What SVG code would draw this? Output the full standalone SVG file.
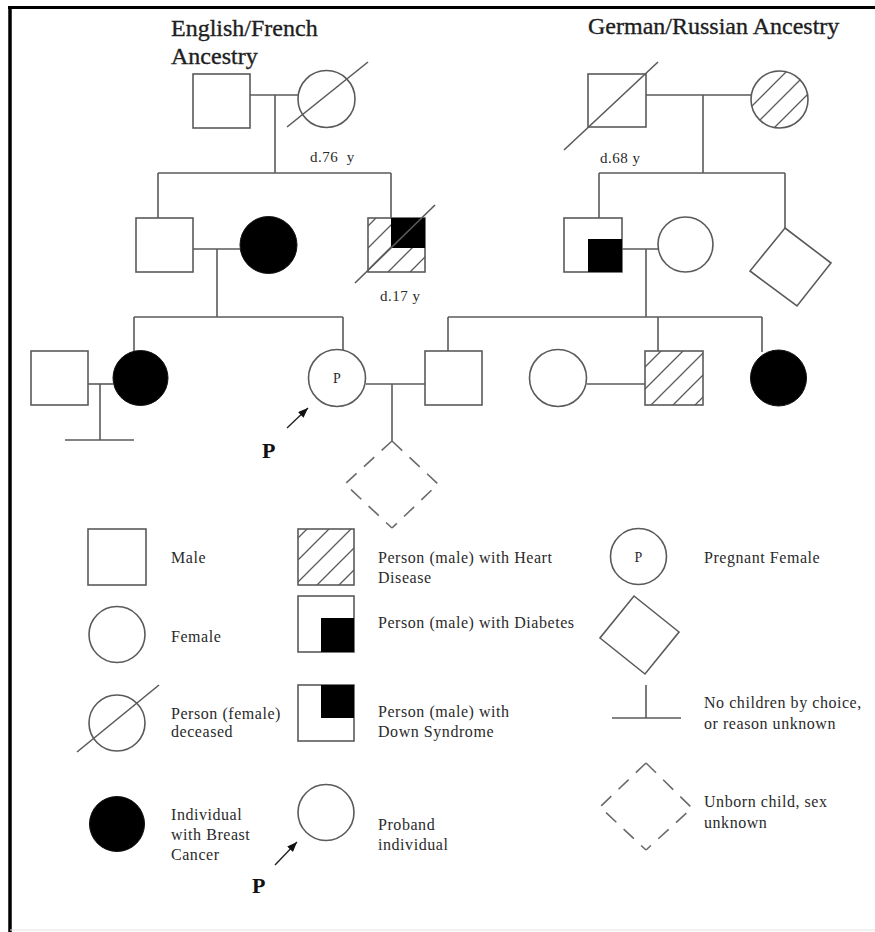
<svg xmlns="http://www.w3.org/2000/svg" width="875" height="932" viewBox="0 0 875 932">
  <style>
    .ln { stroke: #5a5a5a; stroke-width: 1.6; fill: none; }
    .sym { stroke: #5a5a5a; stroke-width: 1.6; fill: #fff; }
    .blk { fill: #000; stroke: #111; stroke-width: 1; }
    .hat { stroke: #5a5a5a; stroke-width: 1.6; fill: url(#hatch); }
    .dash { stroke: #6a6a6a; stroke-width: 1.6; fill: none; stroke-dasharray: 14 10; }
    .head { font-family: "Liberation Serif", "Times New Roman", serif; font-size: 24px; fill: #1e1e1e; stroke: #1e1e1e; stroke-width: 0.35px; }
    .lbl { font-family: "Liberation Serif", "Times New Roman", serif; font-size: 16px; fill: #2a2a2a; letter-spacing: 0.55px; }
    .age { font-family: "Liberation Serif", "Times New Roman", serif; font-size: 15px; fill: #2a2a2a; letter-spacing: 0.5px; white-space: pre; }
    .pin { font-family: "Liberation Serif", "Times New Roman", serif; font-size: 14px; fill: #2a2a2a; text-anchor: middle; }
    .pb { font-family: "Liberation Serif", "Times New Roman", serif; font-size: 22px; font-weight: bold; fill: #111; }
    .arr { stroke: #222; stroke-width: 1.4; fill: none; marker-end: url(#tip); }
  </style>
  <defs>
    <pattern id="hatch" patternUnits="userSpaceOnUse" width="22" height="22">
      <path d="M-5,5 L5,-5 M0,22 L22,0 M17,27 L27,17" stroke="#5a5a5a" stroke-width="1.3"/>
    </pattern>
    <marker id="tip" viewBox="0 0 10 8" refX="10" refY="4" markerWidth="10" markerHeight="8" markerUnits="userSpaceOnUse" orient="auto">
      <path d="M0,0 L10,4 L0,8 Z" fill="#111"/>
    </marker>
  </defs>

  <rect width="875" height="932" fill="#fff"/>
  <!-- frame -->
  <g id="frame">
    <line x1="8" y1="7.5" x2="875" y2="7.5" stroke="#000" stroke-width="3"/>
    <line x1="10" y1="6" x2="10" y2="932" stroke="#000" stroke-width="3.5"/>
    <line x1="10" y1="930" x2="875" y2="930" stroke="#e2e2e2" stroke-width="1"/>
  </g>

  <!-- headings -->
  <g id="headings">
    <text class="head" x="171" y="36">English/French</text>
    <text class="head" x="171" y="64">Ancestry</text>
    <text class="head" x="588" y="34">German/Russian Ancestry</text>
  </g>

  <!-- connectors -->
  <g id="connectors">
    <!-- English/French grandparents -->
    <line class="ln" x1="250" y1="95" x2="298" y2="95"/>
    <line class="ln" x1="275" y1="95" x2="275" y2="173"/>
    <line class="ln" x1="158" y1="173" x2="391" y2="173"/>
    <line class="ln" x1="158" y1="173" x2="158" y2="218"/>
    <line class="ln" x1="391" y1="173" x2="391" y2="218"/>
    <!-- German/Russian grandparents -->
    <line class="ln" x1="646" y1="95" x2="751" y2="95"/>
    <line class="ln" x1="703" y1="95" x2="703" y2="173"/>
    <line class="ln" x1="599" y1="173" x2="785" y2="173"/>
    <line class="ln" x1="599" y1="173" x2="599" y2="218"/>
    <line class="ln" x1="785" y1="173" x2="785" y2="228"/>
    <!-- left parents -->
    <line class="ln" x1="193" y1="249" x2="240" y2="249"/>
    <line class="ln" x1="217" y1="249" x2="217" y2="317"/>
    <line class="ln" x1="134" y1="317" x2="343" y2="317"/>
    <line class="ln" x1="134" y1="317" x2="134" y2="352"/>
    <line class="ln" x1="343" y1="317" x2="343" y2="351"/>
    <!-- right parents -->
    <line class="ln" x1="622" y1="249" x2="658" y2="249"/>
    <line class="ln" x1="646" y1="249" x2="646" y2="317"/>
    <line class="ln" x1="448" y1="317" x2="762" y2="317"/>
    <line class="ln" x1="448" y1="317" x2="448" y2="351"/>
    <line class="ln" x1="658" y1="317" x2="658" y2="351"/>
    <line class="ln" x1="762" y1="317" x2="762" y2="352"/>
    <!-- third generation couples -->
    <line class="ln" x1="88" y1="384" x2="113" y2="384"/>
    <line class="ln" x1="100" y1="384" x2="100" y2="440"/>
    <line class="ln" x1="65" y1="440" x2="134" y2="440"/>
    <line class="ln" x1="366" y1="384" x2="425" y2="384"/>
    <line class="ln" x1="392" y1="384" x2="392" y2="441"/>
    <line class="ln" x1="587" y1="384" x2="645" y2="384"/>
  </g>

  <!-- English/French side -->
  <g id="ef-grandfather"><rect class="sym" x="193" y="74" width="57" height="54"/></g>
  <g id="ef-grandmother">
    <circle class="sym" cx="326.5" cy="99" r="28.5"/>
    <line class="ln" x1="287" y1="127" x2="368" y2="62"/>
    <text class="age" x="310" y="162">d.76  y</text>
  </g>
  <g id="ef-son"><rect class="sym" x="136" y="218" width="57" height="54"/></g>
  <g id="ef-son-wife"><circle class="blk" cx="268.5" cy="245" r="28.5"/></g>
  <g id="ef-son-deceased">
    <rect class="hat" x="368" y="218" width="57" height="54"/>
    <rect x="391" y="218" width="34" height="30" fill="#000"/>
    <line class="ln" x1="355" y1="283" x2="435" y2="205"/>
    <text class="age" x="380" y="301">d.17 y</text>
  </g>

  <!-- German/Russian side -->
  <g id="gr-grandfather">
    <rect class="sym" x="588" y="74" width="58" height="53"/>
    <line class="ln" x1="564" y1="150" x2="658" y2="62"/>
    <text class="age" x="600" y="163">d.68 y</text>
  </g>
  <g id="gr-grandmother"><circle class="hat" cx="779.5" cy="99.5" r="28.5"/></g>
  <g id="gr-son">
    <rect class="sym" x="564" y="218" width="58" height="54"/>
    <rect x="588" y="239" width="34" height="33" fill="#000"/>
  </g>
  <g id="gr-son-wife"><circle class="sym" cx="685.5" cy="244.5" r="27.5"/></g>
  <g id="gr-sibling"><polygon class="sym" points="785,228 831,263 797,306 750,271"/></g>

  <!-- third generation -->
  <g id="g3-husband"><rect class="sym" x="31" y="351" width="57" height="54"/></g>
  <g id="g3-daughter"><circle class="blk" cx="140.5" cy="378" r="27.5"/></g>
  <g id="proband">
    <circle class="sym" cx="337" cy="378" r="28.5"/>
    <text class="pin" x="337" y="383">P</text>
    <line class="arr" x1="287" y1="428" x2="308" y2="408"/>
    <text class="pb" x="262" y="458">P</text>
  </g>
  <g id="unborn">
    <path class="dash" d="M392,441 L345,484 L392,528"/>
    <path class="dash" d="M392,441 L438,484 L392,528"/>
  </g>
  <g id="proband-husband"><rect class="sym" x="425" y="351" width="57" height="54"/></g>
  <g id="sister-in-law"><circle class="sym" cx="558" cy="378" r="28.5"/></g>
  <g id="brother-in-law"><rect class="hat" x="645" y="351" width="58" height="54"/></g>
  <g id="sister-of-husband"><circle class="blk" cx="778.5" cy="378" r="28"/></g>

  <!-- key -->
  <g id="key-male">
    <rect class="sym" x="88" y="529" width="58" height="56"/>
    <text class="lbl" x="171" y="563">Male</text>
  </g>
  <g id="key-female">
    <circle class="sym" cx="117" cy="634.5" r="28"/>
    <text class="lbl" x="171" y="642">Female</text>
  </g>
  <g id="key-deceased">
    <circle class="sym" cx="117" cy="723" r="28"/>
    <line class="ln" x1="77" y1="752" x2="159" y2="685"/>
    <text class="lbl" x="171" y="719">Person (female)</text>
    <text class="lbl" x="171" y="737">deceased</text>
  </g>
  <g id="key-cancer">
    <circle class="blk" cx="117" cy="824" r="27.5"/>
    <text class="lbl" x="171" y="820">Individual</text>
    <text class="lbl" x="171" y="840">with Breast</text>
    <text class="lbl" x="171" y="860">Cancer</text>
  </g>
  <g id="key-heart">
    <rect class="hat" x="298" y="529" width="56" height="56"/>
    <text class="lbl" x="378" y="563">Person (male) with Heart</text>
    <text class="lbl" x="378" y="583">Disease</text>
  </g>
  <g id="key-diabetes">
    <rect class="sym" x="298" y="596" width="56" height="56"/>
    <rect x="321" y="618" width="33" height="34" fill="#000"/>
    <text class="lbl" x="378" y="628">Person (male) with Diabetes</text>
  </g>
  <g id="key-down">
    <rect class="sym" x="298" y="685" width="56" height="56"/>
    <rect x="321" y="685" width="33" height="33" fill="#000"/>
    <text class="lbl" x="378" y="717">Person (male) with</text>
    <text class="lbl" x="378" y="737">Down Syndrome</text>
  </g>
  <g id="key-proband">
    <circle class="sym" cx="326" cy="812.5" r="28"/>
    <line class="arr" x1="275" y1="865" x2="297" y2="842"/>
    <text class="pb" x="252" y="893">P</text>
    <text class="lbl" x="378" y="830">Proband</text>
    <text class="lbl" x="378" y="850">individual</text>
  </g>
  <g id="key-pregnant">
    <circle class="sym" cx="638.5" cy="556.5" r="28"/>
    <text class="pin" x="638.5" y="562">P</text>
    <text class="lbl" x="704" y="563">Pregnant Female</text>
  </g>
  <g id="key-sex-unknown">
    <polygon class="sym" points="634,596 679,632 645,674 600,638"/>
  </g>
  <g id="key-no-children">
    <line class="ln" x1="646" y1="685" x2="646" y2="718"/>
    <line class="ln" x1="612" y1="718" x2="681" y2="718"/>
    <text class="lbl" x="704" y="708">No children by choice,</text>
    <text class="lbl" x="704" y="729">or reason unknown</text>
  </g>
  <g id="key-unborn">
    <path class="dash" d="M646,763 L600,807 L646,850"/>
    <path class="dash" d="M646,763 L692,808 L646,850"/>
    <text class="lbl" x="704" y="807">Unborn child, sex</text>
    <text class="lbl" x="704" y="828">unknown</text>
  </g>
</svg>
